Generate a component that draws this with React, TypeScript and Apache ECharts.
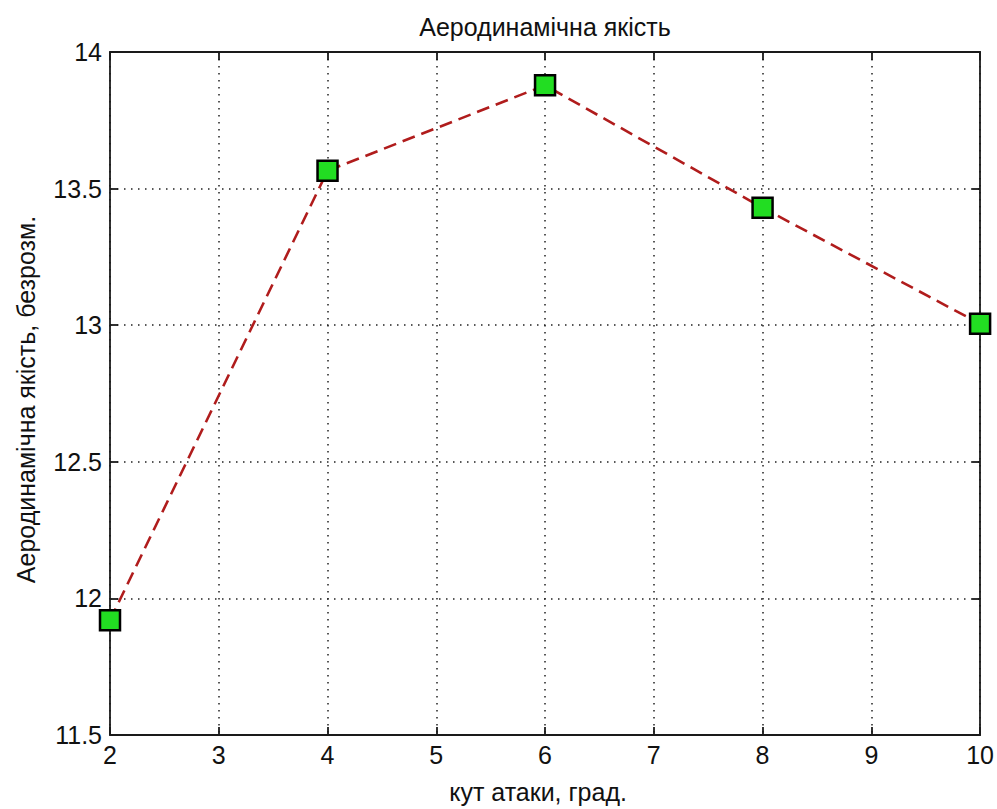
import React, { useEffect, useRef } from "react";
import * as echarts from "echarts";

const angles = [2, 4, 6, 8, 10];
const quality = [11.92, 13.565, 13.878, 13.43, 13.005];
const titleText = "Аеродинамічна якість";
const xName = "кут атаки, град.";
const yName = "Аеродинамічна якість, безрозм.";

export default function App() {
  const ref = useRef<HTMLDivElement>(null);
  useEffect(() => {
    if (!ref.current) return;
    const chart = echarts.init(ref.current, undefined, { renderer: "svg" });
    const font = "Arial, 'Liberation Sans', sans-serif";
    const fs = 25;
    const axisCommon = {
      axisLine: { show: true, lineStyle: { color: "#1a1a1a", width: 1.8 } },
      axisTick: { show: true, inside: true, length: 8, lineStyle: { color: "#1a1a1a", width: 1.8 } },
    };
    chart.setOption({
      animation: false,
      backgroundColor: "#fff",
      title: {
        text: titleText,
        left: 540,
        textAlign: "center",
        top: 9,
        textStyle: { fontFamily: font, fontSize: fs, fontWeight: "normal", color: "#111" },
      },
      grid: { left: 110, top: 52, right: 15, bottom: 63 },
      xAxis: [
        {
          type: "value",
          min: 2,
          max: 10,
          interval: 1,
          position: "bottom",
          name: xName,
          nameLocation: "middle",
          nameGap: 44,
          nameTextStyle: { fontFamily: font, fontSize: fs, color: "#111", padding: [0, 14, 0, 0] },
          ...axisCommon,
          axisLabel: { fontFamily: font, fontSize: fs, color: "#111", margin: 7 },
          splitLine: { show: true, lineStyle: { type: [1.5, 5.5], color: "#222", width: 1.5 } },
        },
        {
          type: "value",
          min: 2,
          max: 10,
          interval: 1,
          position: "top",
          ...axisCommon,
          axisLabel: { show: false },
          splitLine: { show: false },
        },
      ],
      yAxis: [
        {
          type: "value",
          min: 11.5,
          max: 14,
          interval: 0.5,
          position: "left",
          name: yName,
          nameLocation: "middle",
          nameGap: 72,
          nameTextStyle: { fontFamily: font, fontSize: fs, color: "#111", padding: [0, 12, 0, 0] },
          ...axisCommon,
          axisLabel: { fontFamily: font, fontSize: fs, color: "#111", margin: 8 },
          splitLine: { show: true, lineStyle: { type: [1.5, 5.5], color: "#222", width: 1.5 } },
        },
        {
          type: "value",
          min: 11.5,
          max: 14,
          interval: 0.5,
          position: "right",
          ...axisCommon,
          axisLabel: { show: false },
          splitLine: { show: false },
        },
      ],
      series: [
        {
          type: "line",
          data: angles.map((a, i) => [a, quality[i]]),
          symbol: "rect",
          symbolSize: 20,
          clip: false,
          lineStyle: { color: "#b01c1c", width: 2.6, type: [13, 7] },
          itemStyle: { color: "#22dd22", borderColor: "#000", borderWidth: 2.5 },
        },
      ],
    });
    return () => chart.dispose();
  }, []);
  return <div ref={ref} style={{ width: 997, height: 809, position: "absolute", left: 0, top: 0 }} />;
}
